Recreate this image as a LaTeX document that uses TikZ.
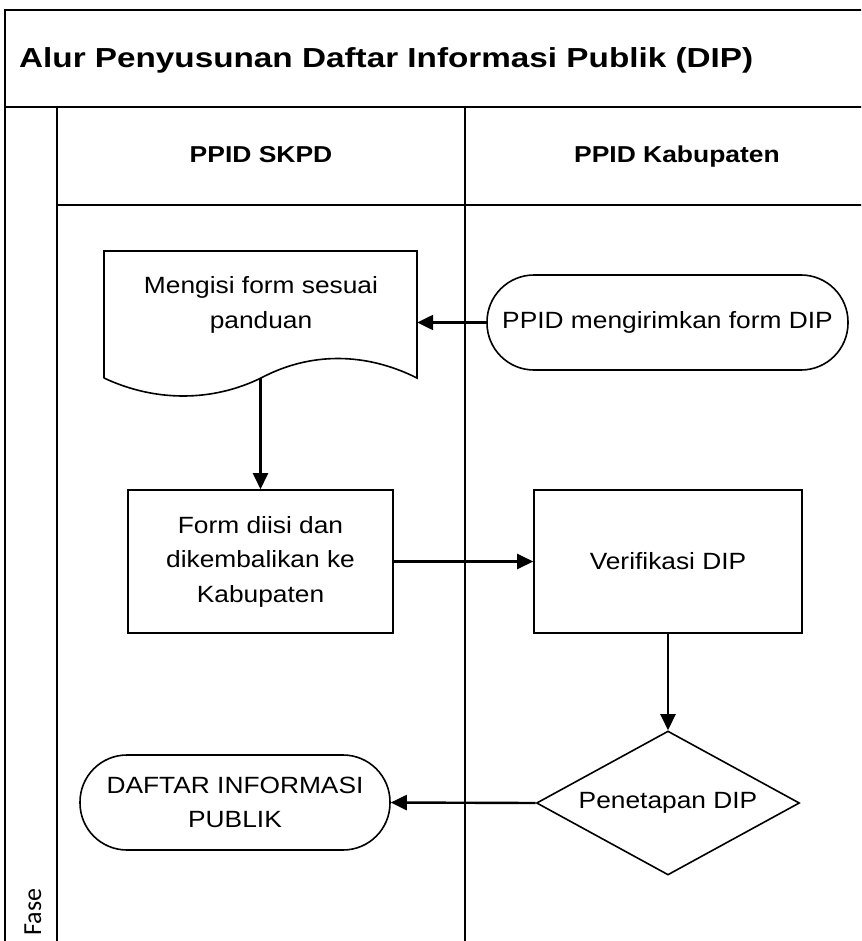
\documentclass[tikz,border=0pt]{standalone}
\usepackage{fontspec}
\setmainfont[FakeStretch=1.12]{Liberation Sans}
\newfontfamily\titlefont[FakeStretch=1.21]{Liberation Sans}
\newfontfamily\hdrfont[FakeStretch=1.15]{Liberation Sans}
\newfontfamily\fasefont{Carlito}
\usetikzlibrary{arrows.meta,shapes.geometric}
\begin{document}
\begin{tikzpicture}[x=1pt,y=-1pt,
  frame/.style={line width=2.4pt},
  shapeline/.style={line width=1.6pt},
  txt/.style={font=\fontsize{23.5}{34.5}\selectfont, align=center},
  procbox/.style={shapeline, draw, rectangle, txt, inner sep=0pt},
  term/.style={shapeline, draw, rectangle, rounded corners=47pt, txt, inner sep=0pt, minimum height=95pt},
  dec/.style={shapeline, draw, diamond, aspect=1.83, txt, inner sep=0pt, minimum width=263pt, minimum height=144pt},
  flow/.style={line width=2.4pt, -{Triangle[length=16pt,width=15pt]}},
  hdr/.style={anchor=base, font=\hdrfont\bfseries\fontsize{23}{26}\selectfont}
]
\useasboundingbox (0,0) rectangle (861,941);
\fill[white] (0,0) rectangle (861,941);
\begin{scope}
\clip (0,0) rectangle (861,941);
\draw[frame] (5,10) rectangle (920,1000);
\draw[frame] (5,107) -- (920,107);
\draw[frame] (57,107) -- (57,1000);
\draw[frame] (465,107) -- (465,1000);
\draw[frame] (57,205) -- (920,205);
\end{scope}

\node[anchor=west, inner sep=0pt, font=\titlefont\bfseries\fontsize{27.5}{32}\selectfont] (title) at (19,60) {Alur Penyusunan Daftar Informasi Publik (DIP)};
\node[hdr] (lane1) at (261,163) {PPID SKPD};
\node[hdr] (lane2) at (677,163) {PPID Kabupaten};
\node[rotate=90, font=\fasefont\fontsize{26}{30}\selectfont] (fase) at (33,912) {Fase};

% document shape
\node[minimum width=313pt, minimum height=127pt, inner sep=0pt] (mengisi) at (260.5,314.5) {};
\draw[shapeline] (104,378) -- (104,251) -- (417,251) -- (417,378)
  .. controls (365,352) and (310,352) .. (261,378)
  .. controls (212,402) and (155,402) .. (104,378);
\node[txt] (mengisitxt) at (261,305) {Mengisi form sesuai\\panduan};

\node[term, minimum width=361pt] (kirim) at (667.5,322.5) {PPID mengirimkan form DIP};
\node[procbox, minimum width=265pt, minimum height=143pt] (form) at (260.5,561.5) {Form diisi dan\\dikembalikan ke\\Kabupaten};
\node[procbox, minimum width=268pt, minimum height=143pt] (verif) at (668,561.5) {Verifikasi DIP};
\node[dec] (tetap) at (668,803) {Penetapan DIP};
\node[term, minimum width=310pt] (daftar) at (235,802.5) {DAFTAR INFORMASI\\PUBLIK};

\draw[flow] (kirim.west) -- (kirim.west -| mengisi.east);
\draw[flow] (mengisi.south) -- (form.north);
\draw[flow] (form.east) -- (verif.west);
\draw[flow] (verif.south) -- (tetap.north);
\draw[flow] (tetap.west) -- (daftar.east);
\end{tikzpicture}
\end{document}
